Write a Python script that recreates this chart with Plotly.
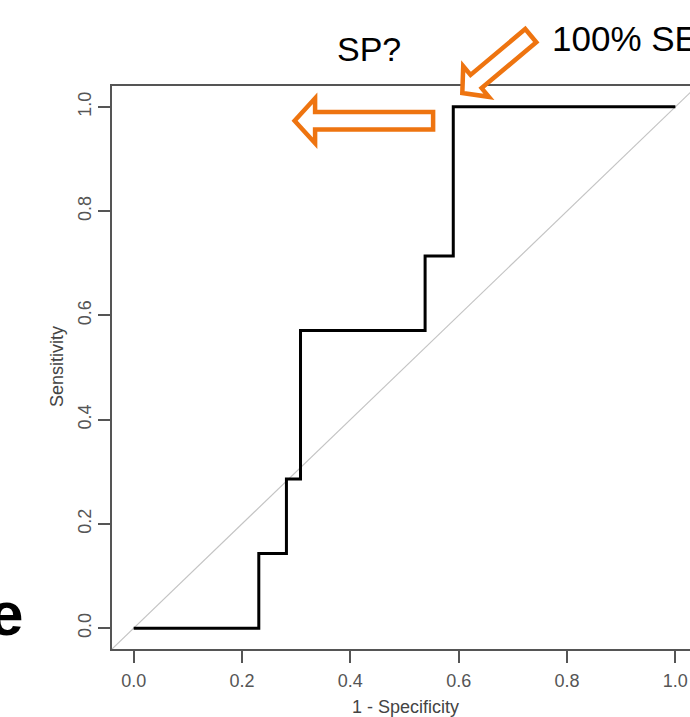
import math
import plotly.graph_objects as go

# ---- data ----
one_minus_specificity = [0.0, 0.231, 0.282, 0.308, 0.538, 0.590, 1.0]
sensitivity = [0.0, 0.143, 0.286, 0.571, 0.714, 1.0, 1.0]
diag_x = [-0.04, 1.04]
diag_y = [-0.04, 1.04]
tick_vals = [0.0, 0.2, 0.4, 0.6, 0.8, 1.0]
tick_text = ["0.0", "0.2", "0.4", "0.6", "0.8", "1.0"]

# ---- layout geometry ----
W, H = 690, 717
L, R, T, B = 112, 0, 86, 68
PW, PH = W - L - R, H - T - B
X_PX_PER_UNIT = 541.7
ORANGE = "#EE7410"
AXC = "#555555"
FONT = "Liberation Sans, Arial, Helvetica, sans-serif"


def pxx(x):
    return (x - L) / PW


def pxy(y):
    return (H - B - y) / PH


def arrow_path(tip, direction, length, head_len, head_half, shaft_half):
    dx, dy = direction
    n = math.hypot(dx, dy)
    dx, dy = dx / n, dy / n
    nx, ny = -dy, dx
    local = [(0, 0), (head_len, head_half), (head_len, shaft_half),
             (length, shaft_half), (length, -shaft_half),
             (head_len, -shaft_half), (head_len, -head_half)]
    pts = []
    for a, b in local:
        X = tip[0] - a * dx + b * nx
        Y = tip[1] - a * dy + b * ny
        pts.append((pxx(X), pxy(Y)))
    return "M " + " L ".join(f"{p[0]:.5f},{p[1]:.5f}" for p in pts) + " Z"


fig = go.Figure()
fig.add_trace(go.Scatter(x=diag_x, y=diag_y, mode="lines",
                         line=dict(color="#C4C4C4", width=1.2),
                         hoverinfo="skip", showlegend=False))
fig.add_trace(go.Scatter(x=one_minus_specificity, y=sensitivity, mode="lines",
                         line=dict(color="black", width=3, shape="hv"),
                         showlegend=False))

shapes = [
    dict(type="path", xref="paper", yref="paper",
         path=arrow_path((294.6, 120.8), (-1, 0), 138.5, 20.5, 22.5, 8.7),
         line=dict(color=ORANGE, width=4.5), fillcolor="white", layer="above"),
    dict(type="path", xref="paper", yref="paper",
         path=arrow_path((462.3, 93.1), (-0.766, 0.643), 89.4, 18.0, 20.0, 8.6),
         line=dict(color=ORANGE, width=4.5), fillcolor="white", layer="above"),
]

annotations = [
    dict(text="SP?", x=pxx(369), y=pxy(49), xref="paper", yref="paper",
         xanchor="center", yanchor="middle", showarrow=False,
         font=dict(family=FONT, size=34, color="black")),
    dict(text="100% SE", x=pxx(550), y=pxy(39), xref="paper", yref="paper",
         xanchor="left", yanchor="middle", showarrow=False,
         font=dict(family=FONT, size=35, color="black")),
    dict(text="<b>e</b>", x=pxx(25), y=pxy(613), xref="paper", yref="paper",
         xanchor="right", yanchor="middle", showarrow=False,
         font=dict(family=FONT, size=62, color="black")),
    dict(text="1 - Specificity", x=pxx(405), y=pxy(707), xref="paper", yref="paper",
         xanchor="center", yanchor="middle", showarrow=False,
         font=dict(family=FONT, size=18, color="#444444")),
    dict(text="Sensitivity", x=pxx(57), y=pxy(367), xref="paper", yref="paper",
         xanchor="center", yanchor="middle", showarrow=False, textangle=-90,
         font=dict(family=FONT, size=18, color="#444444")),
]

x_max = -0.04 + PW / X_PX_PER_UNIT
fig.update_layout(
    width=W, height=H,
    margin=dict(l=L, r=R, t=T, b=B),
    plot_bgcolor="white", paper_bgcolor="white",
    shapes=shapes, annotations=annotations,
    xaxis=dict(range=[-0.04, x_max], tickvals=tick_vals, ticktext=tick_text,
               ticks="outside", ticklen=12, tickwidth=1.6, tickcolor=AXC,
               showline=True, linecolor=AXC, linewidth=1.6, mirror=True,
               showgrid=False, zeroline=False, ticklabelstandoff=3,
               tickfont=dict(family=FONT, size=18, color="#555555")),
    yaxis=dict(range=[-0.04, 1.04], tickvals=tick_vals, ticktext=tick_text,
               tickangle=-90,
               ticks="outside", ticklen=12, tickwidth=1.6, tickcolor=AXC,
               showline=True, linecolor=AXC, linewidth=1.6,
               showgrid=False, zeroline=False,
               tickfont=dict(family=FONT, size=18, color="#555555")),
)

fig.write_html(
    "out.html",
    config={"displayModeBar": False},
    post_script="document.body.style.margin='0';document.body.style.overflow='hidden';",
)
